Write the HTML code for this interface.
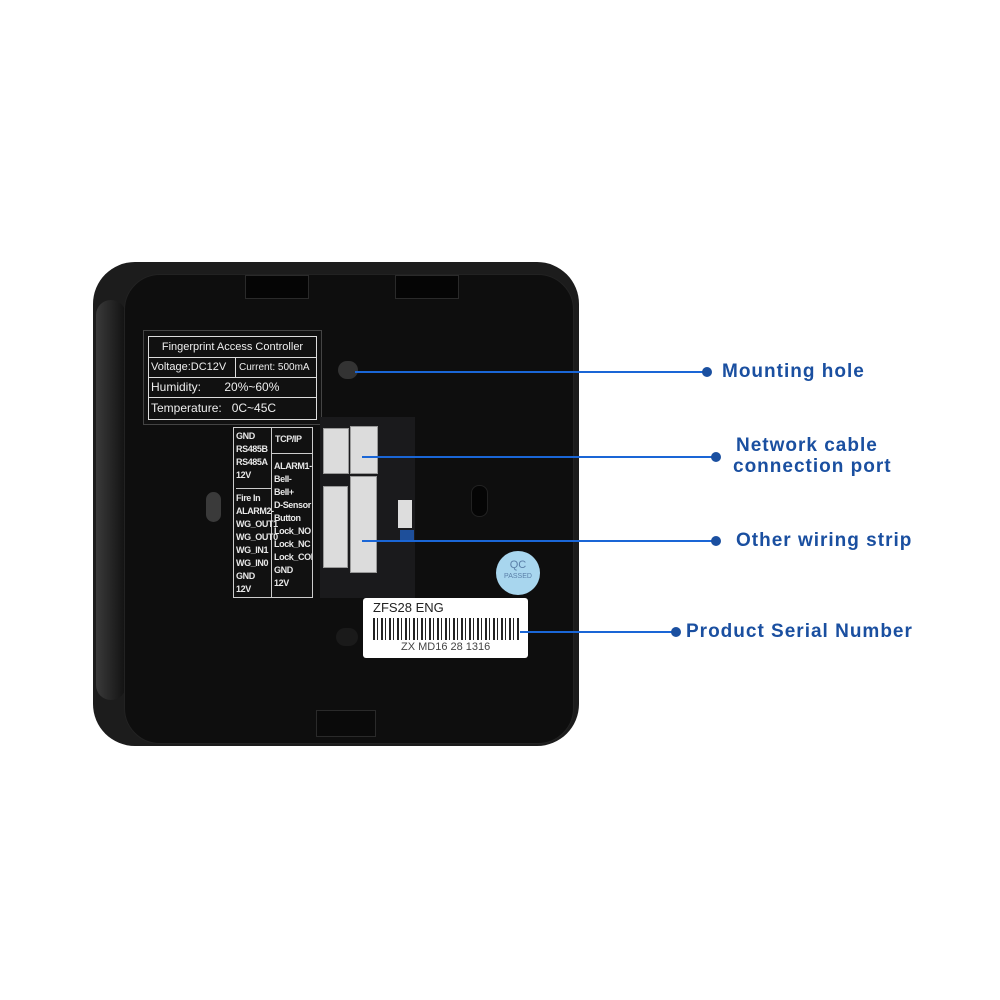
<!DOCTYPE html>
<html><head><meta charset="utf-8"><style>
body{margin:0;width:1000px;height:1000px;background:#fff;position:relative;overflow:hidden;font-family:"Liberation Sans",sans-serif}
.a{position:absolute}
.lbl{position:absolute;color:#1a4fa0;font-weight:bold;font-size:19px;white-space:nowrap;line-height:20px;letter-spacing:1px}
.ln{position:absolute;height:2px;background:#1a66d6}
.dot{position:absolute;width:10px;height:10px;border-radius:50%;background:#1a4fa0}
.w{color:#e8e8e8;font-size:9px;font-weight:bold;line-height:13px;white-space:nowrap;letter-spacing:-0.4px}
.conn{position:absolute;background:#dcdcdc;border:1px solid #999}
</style></head><body>
<div class="a" style="left:93px;top:262px;width:486px;height:484px;border-radius:42px;background:#1c1c1c"></div>
<div class="a" style="left:96px;top:300px;width:30px;height:400px;background:linear-gradient(90deg,#3a3a3a,#111);border-radius:20px"></div>
<div class="a" style="left:124px;top:274px;width:448px;height:468px;border-radius:36px;background:#0e0e0e;border:1px solid #222"></div>
<div class="a" style="left:245px;top:275px;width:62px;height:22px;background:#050505;border:1px solid #2a2a2a"></div>
<div class="a" style="left:395px;top:275px;width:62px;height:22px;background:#050505;border:1px solid #2a2a2a"></div>
<div class="a" style="left:316px;top:710px;width:58px;height:25px;background:#0a0a0a;border:1px solid #2a2a2a"></div>
<div class="a" style="left:338px;top:361px;width:20px;height:18px;border-radius:9px;background:#333"></div>
<div class="a" style="left:206px;top:492px;width:15px;height:30px;border-radius:8px;background:#3a3a3a"></div>
<div class="a" style="left:471px;top:485px;width:15px;height:30px;border-radius:8px;background:#050505;border:1px solid #222"></div>
<div class="a" style="left:336px;top:628px;width:22px;height:18px;border-radius:9px;background:#1a1a1a"></div>
<div class="a" style="left:143px;top:330px;width:177px;height:93px;border:1px solid #444;background:#111">
 <div class="a" style="left:4px;top:5px;width:167px;height:82px;border:1px solid #ddd;color:#eee;font-size:11px">
  <div style="height:20px;border-bottom:1px solid #ddd;text-align:center;line-height:20px">Fingerprint Access Controller</div>
  <div style="height:19px;border-bottom:1px solid #ddd;line-height:19px;display:flex"><span style="width:84px;border-right:1px solid #ddd;padding-left:2px">Voltage:DC12V</span><span style="padding-left:3px;font-size:10px">Current: 500mA</span></div>
  <div style="height:19px;border-bottom:1px solid #ddd;line-height:19px;font-size:12px;padding-left:2px">Humidity:&nbsp;&nbsp;&nbsp;&nbsp;&nbsp;&nbsp;&nbsp;20%~60%</div>
  <div style="height:20px;line-height:20px;font-size:12px;padding-left:2px">Temperature:&nbsp;&nbsp;&nbsp;0C~45C</div>
 </div>
</div>
<div class="a" style="left:233px;top:427px;width:78px;height:169px;border:1px solid #ccc;background:#111;overflow:hidden">
 <div class="a w" style="left:0;top:0;width:38px;height:169px;border-right:1px solid #ccc;padding-left:2px;box-sizing:border-box">
  <div style="height:58px;border-bottom:1px solid #ccc;padding-top:2px">GND<br>RS485B<br>RS485A<br>12V</div>
  <div style="padding-top:3px">Fire In<br>ALARM2-<br>WG_OUT1<br>WG_OUT0<br>WG_IN1<br>WG_IN0<br>GND<br>12V</div>
 </div>
 <div class="a w" style="left:38px;top:0;width:40px">
  <div style="height:26px;border-bottom:1px solid #ccc;padding:5px 3px 0;box-sizing:border-box">TCP/IP</div>
  <div style="padding:6px 2px 0">ALARM1-<br>Bell-<br>Bell+<br>D-Sensor<br>Button<br>Lock_NO<br>Lock_NC<br>Lock_COM<br>GND<br>12V</div>
 </div>
</div>
<div class="a" style="left:320px;top:417px;width:95px;height:181px;background:#1a1a1c"></div>
<div class="a" style="left:398px;top:500px;width:14px;height:28px;background:#ddd"></div>
<div class="a" style="left:400px;top:530px;width:14px;height:10px;background:#1e4f9a"></div>
<div class="conn" style="left:323px;top:428px;width:24px;height:44px"></div>
<div class="conn" style="left:350px;top:426px;width:26px;height:46px"></div>
<div class="conn" style="left:323px;top:486px;width:23px;height:80px"></div>
<div class="conn" style="left:350px;top:476px;width:25px;height:95px"></div>
<div class="a" style="left:496px;top:551px;width:44px;height:44px;border-radius:50%;background:#a8d6ee;color:#5a7fa8;font-size:9px;text-align:center;line-height:12px"><div style="padding-top:8px;font-size:11px">QC</div><div style="font-size:7px">PASSED</div></div>
<div class="a" style="left:363px;top:598px;width:165px;height:60px;background:#fff;border-radius:3px">
 <div class="a" style="left:10px;top:2px;font-size:13px;color:#222">ZFS28 ENG</div>
 <div class="a" style="left:10px;top:20px;width:148px;height:22px;background:repeating-linear-gradient(90deg,#222 0 2px,#fff 2px 4px,#222 4px 5px,#fff 5px 8px)"></div>
 <div class="a" style="left:38px;top:43px;font-size:11px;color:#444">ZX MD16 28 1316</div>
</div>
<div class="ln" style="left:355px;top:371px;width:350px"></div><div class="dot" style="left:702px;top:367px"></div>
<div class="lbl" style="left:722px;top:362px">Mounting hole</div>
<div class="ln" style="left:362px;top:456px;width:353px"></div><div class="dot" style="left:711px;top:452px"></div>
<div class="lbl" style="left:736px;top:436px">Network cable</div>
<div class="lbl" style="left:733px;top:457px">connection port</div>
<div class="ln" style="left:362px;top:540px;width:353px"></div><div class="dot" style="left:711px;top:536px"></div>
<div class="lbl" style="left:736px;top:531px">Other wiring strip</div>
<div class="ln" style="left:520px;top:631px;width:155px"></div><div class="dot" style="left:671px;top:627px"></div>
<div class="lbl" style="left:686px;top:622px">Product Serial Number</div>
</body></html>
